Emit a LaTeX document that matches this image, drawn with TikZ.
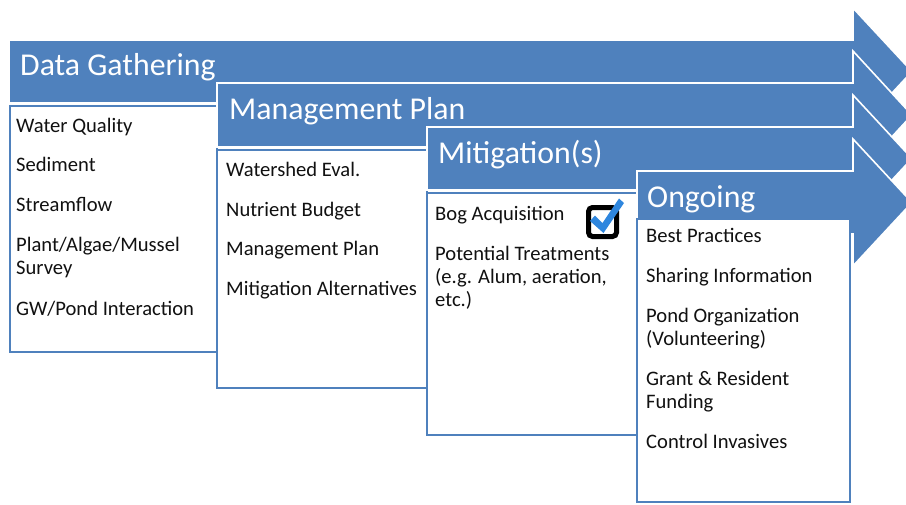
\documentclass[tikz,border=0pt]{standalone}
\usepackage{fontspec}
\setmainfont{Carlito}
\begin{document}
\begin{tikzpicture}[x=1pt,y=-1pt,
  arrowfill/.style={fill=ablue,draw=white,line width=1.6pt,line join=miter},
  itembox/.style={fill=white,draw=ablue,line width=2pt},
  title/.style={anchor=base west,inner sep=0pt,text=white,font=\fontsize{31.8}{34}\selectfont},
  item/.style={anchor=base west,inner sep=0pt,text=txt,font=\fontsize{20.6}{23}\selectfont}]
\definecolor{ablue}{HTML}{4F81BD}
\definecolor{txt}{HTML}{111111}
\definecolor{chk}{HTML}{2E86DE}
\useasboundingbox (0,0) rectangle (906,504);
\clip (0,0) rectangle (906,504);
% arrow 1
\filldraw[arrowfill] (9,40) -- (853,40) -- (853,8) -- (912,71.5) -- (853,135) -- (853,103) -- (9,103) -- cycle;
\node[title] (t1) at (20,75) {Data Gathering};
\draw[itembox] (10,106) rectangle (217,352);
\node[item] (a1) at (16,132) {Water Quality};
\node[item] (a2) at (16,171) {Sediment};
\node[item] (a3) at (16,211) {Streamflow};
\node[item] (a4) at (16,251) {Plant/Algae/Mussel};
\node[item] (a5) at (16,274) {Survey};
\node[item] (a6) at (16,315) {GW/Pond Interaction};
% arrow 2
\filldraw[arrowfill] (217,83) -- (853,83) -- (853,51) -- (912,115) -- (853,179) -- (853,147) -- (217,147) -- cycle;
\node[title] (t2) at (229,119) {Management Plan};
\draw[itembox] (217,150) rectangle (427,388);
\node[item] (b1) at (226,176) {Watershed Eval.};
\node[item] (b2) at (226,216) {Nutrient Budget};
\node[item] (b3) at (226,255) {Management Plan};
\node[item] (b4) at (226,295) {Mitigation Alternatives};
% arrow 3
\filldraw[arrowfill] (427,127) -- (853,127) -- (853,95) -- (912,158.5) -- (853,222) -- (853,190) -- (427,190) -- cycle;
\node[title] (t3) at (438,163) {Mitigation(s)};
\draw[itembox] (427,193) rectangle (637,435);
\node[item] (c1) at (435,220) {Bog Acquisition};
\node[item] (c2) at (435,260) {Potential Treatments};
\node[item] (c3) at (435,283) {(e.g. Alum, aeration,};
\node[item] (c4) at (435,306) {etc.)};
% checkbox icon
\draw[black,line width=5pt,rounded corners=4pt,fill=white] (588.5,207.5) rectangle (616.5,236.5);
\fill[chk] (590,221) -- (595,215.5) -- (602.5,223) -- (619,198.5) -- (624,203) -- (603.5,233) -- cycle;
% arrow 4
\filldraw[arrowfill] (637,171) -- (853,171) -- (853,139) -- (912,202.5) -- (853,266) -- (853,234) -- (637,234) -- cycle;
\node[title] (t4) at (647,207) {Ongoing};
\draw[itembox] (637,219) rectangle (850,502);
\node[item] (d1) at (646,242) {Best Practices};
\node[item] (d2) at (646,282) {Sharing Information};
\node[item] (d3) at (646,322) {Pond Organization};
\node[item] (d4) at (646,345) {(Volunteering)};
\node[item] (d5) at (646,385) {Grant \& Resident};
\node[item] (d6) at (646,408) {Funding};
\node[item] (d7) at (646,448) {Control Invasives};
\end{tikzpicture}
\end{document}
